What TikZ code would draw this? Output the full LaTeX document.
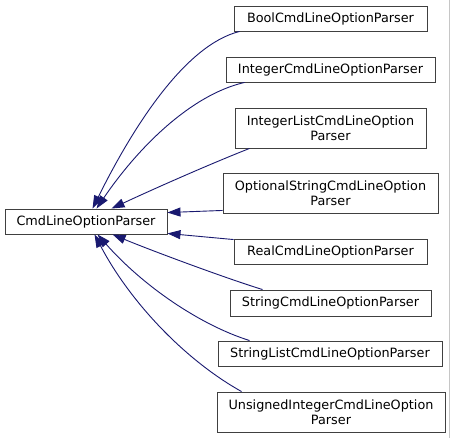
\documentclass[tikz,border=0pt]{standalone}
\usepackage{fontspec}
\setmainfont{DejaVu Sans}
\usetikzlibrary{arrows.meta}
\definecolor{edgecol}{HTML}{191970}
\definecolor{boxcol}{HTML}{404040}
\tikzset{
  cls/.style={draw=boxcol, line width=0.9pt, fill=white, inner sep=0pt, align=center,
    font=\fontsize{12.8}{15}\selectfont},
  edge/.style={draw=edgecol, line width=0.9pt, {Triangle[length=13pt,width=9pt,fill=edgecol]}-}
}
\begin{document}
\begin{tikzpicture}[x=1pt,y=-1pt]
\useasboundingbox[fill=white] (0,0) rectangle (451,438);
\draw[gray!45, line width=0.8pt] (449.5,0) -- (449.5,438);
\node[cls, minimum width=162pt, minimum height=25pt] (base) at (86,221.5) {CmdLineOptionParser};
\node[cls, minimum width=193pt, minimum height=25pt] (bool) at (330.5,18.5) {BoolCmdLineOptionParser};
\node[cls, minimum width=209pt, minimum height=25pt] (int) at (330.5,69.5) {IntegerCmdLineOptionParser};
\node[cls, minimum width=191pt, minimum height=40pt] (intlist) at (330.5,128) {IntegerListCmdLineOption\\Parser};
\node[cls, minimum width=215pt, minimum height=40pt] (optstr) at (330.5,193) {OptionalStringCmdLineOption\\Parser};
\node[cls, minimum width=193pt, minimum height=25pt] (real) at (330.5,251.5) {RealCmdLineOptionParser};
\node[cls, minimum width=201pt, minimum height=26pt] (str) at (330.5,303) {StringCmdLineOptionParser};
\node[cls, minimum width=224pt, minimum height=25pt] (strlist) at (330,353.5) {StringListCmdLineOptionParser};
\node[cls, minimum width=228pt, minimum height=40pt] (uint) at (331,412) {UnsignedIntegerCmdLineOption\\Parser};
% edges
\draw[edge] ([xshift=88pt]base.north west) .. controls (133,127) and (185,45) .. ([xshift=6pt]bool.south west);
\draw[edge] ([xshift=92pt]base.north west) .. controls (137,149) and (190,95) .. ([xshift=19pt]int.south west);
\draw[edge] ([xshift=107pt]base.north west) .. controls (160,186) and (215,162) .. ([xshift=15pt]intlist.south west);
\draw[edge] ([yshift=-4pt]base.north east) -- ([yshift=3pt]optstr.south west);
\draw[edge] ([yshift=1pt]base.south east) -- ([yshift=-1pt]real.north west);
\draw[edge] ([xshift=108pt]base.south west) .. controls (150,250) and (225,278) .. ([xshift=33pt]str.north west);
\draw[edge] ([xshift=93pt]base.south west) .. controls (143,286) and (200,325) .. ([xshift=32pt]strlist.north west);
\draw[edge] ([xshift=90pt]base.south west) .. controls (130,302) and (185,360) .. ([xshift=25pt]uint.north west);
\end{tikzpicture}
\end{document}
